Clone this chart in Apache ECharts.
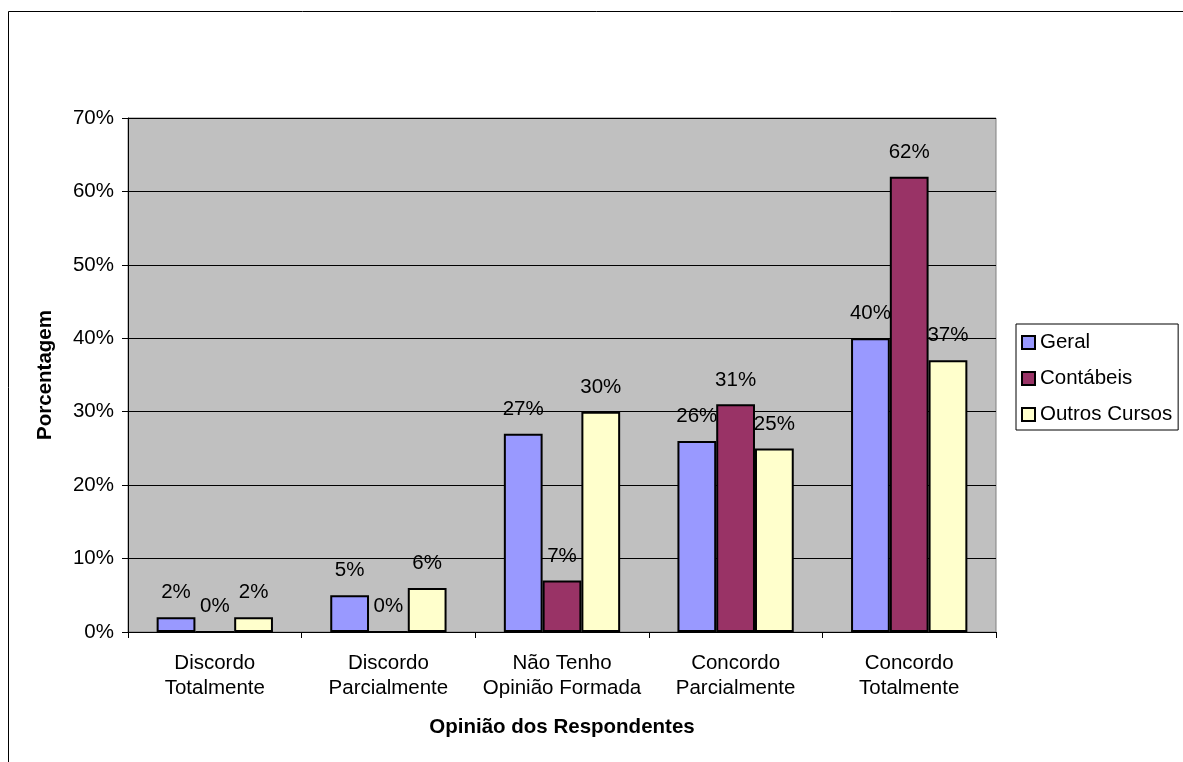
<!DOCTYPE html>
<html>
<head>
<meta charset="utf-8">
<script src="https://cdn.jsdelivr.net/npm/echarts@6/dist/echarts.min.js"></script>
<style>
  html, body { margin: 0; padding: 0; background: #fff; }
  #chart { width: 1183px; height: 762px; }
</style>
</head>
<body>
<div id="chart"></div>
<script>
// categorias (eixo x)
const categories = ['Discordo\nTotalmente', 'Discordo\nParcialmente', 'Não Tenho\nOpinião Formada', 'Concordo\nParcialmente', 'Concordo\nTotalmente'];
// valores em %
const geral = [2, 5, 27, 26, 40];
const contabeis = [0, 0, 7, 31, 62];
const outros = [2, 6, 30, 25, 37];
const seriesNames = ['Geral', 'Contábeis', 'Outros Cursos'];
const seriesColors = ['#9999FF', '#993366', '#FFFFCC'];

const font = 'Liberation Sans, Arial, sans-serif';
const fs = 20.5;
const chart = echarts.init(document.getElementById('chart'));

const seriesInfos = [geral, contabeis, outros].map(function (vals, i) {
  return {
    name: seriesNames[i],
    type: 'bar',
    data: vals,
    barGap: '0%',
    barCategoryGap: '33%',
    itemStyle: { color: seriesColors[i], borderColor: '#000', borderWidth: 2 },
    label: {
      show: true,
      position: 'top',
      distance: 14,
      formatter: '{c}%',
      color: '#000',
      fontFamily: font,
      fontSize: fs
    }
  };
});

chart.setOption({
  animation: false,
  textStyle: { fontFamily: font },
  graphic: [{
    type: 'rect',
    shape: { x: 8.5, y: 11.5, width: 1300, height: 900 },
    style: { fill: null, stroke: '#000', lineWidth: 1 },
    silent: true
  }],
  legend: {
    orient: 'vertical',
    left: 1016,
    top: 324,
    padding: [8, 6, 5, 5],
    borderColor: '#000',
    borderWidth: 1,
    itemWidth: 13,
    itemHeight: 13,
    itemGap: 15,
    icon: 'rect',
    data: seriesNames,
    itemStyle: { borderColor: '#000', borderWidth: 2 },
    textStyle: { fontSize: fs, lineHeight: 20, color: '#000', fontFamily: font }
  },
  grid: {
    left: 128,
    top: 118,
    width: 868,
    height: 514,
    show: true,
    backgroundColor: '#C0C0C0',
    borderColor: '#808080',
    borderWidth: 1
  },
  xAxis: {
    type: 'category',
    data: categories,
    name: 'Opinião dos Respondentes',
    nameLocation: 'middle',
    nameGap: 85,
    nameMoveOverlap: false,
    nameTextStyle: { fontSize: fs, fontWeight: 'bold', color: '#000', fontFamily: font },
    axisLine: { lineStyle: { color: '#000', width: 1 } },
    axisTick: { show: true, length: 6, lineStyle: { color: '#000' } },
    axisLabel: { color: '#000', fontSize: fs, lineHeight: 25, margin: 19, interval: 0, fontFamily: font }
  },
  yAxis: {
    type: 'value',
    min: 0,
    max: 70,
    interval: 10,
    name: 'Porcentagem',
    nameLocation: 'middle',
    nameGap: 72,
    nameMoveOverlap: false,
    nameTextStyle: { fontSize: fs, fontWeight: 'bold', color: '#000', fontFamily: font },
    axisLine: { show: true, lineStyle: { color: '#000', width: 1 } },
    axisTick: { show: true, length: 6, lineStyle: { color: '#000' } },
    axisLabel: { color: '#000', fontSize: fs, margin: 14, formatter: '{value}%', fontFamily: font },
    splitLine: { lineStyle: { color: '#000', width: 1 } }
  },
  series: seriesInfos
});
</script>
</body>
</html>
